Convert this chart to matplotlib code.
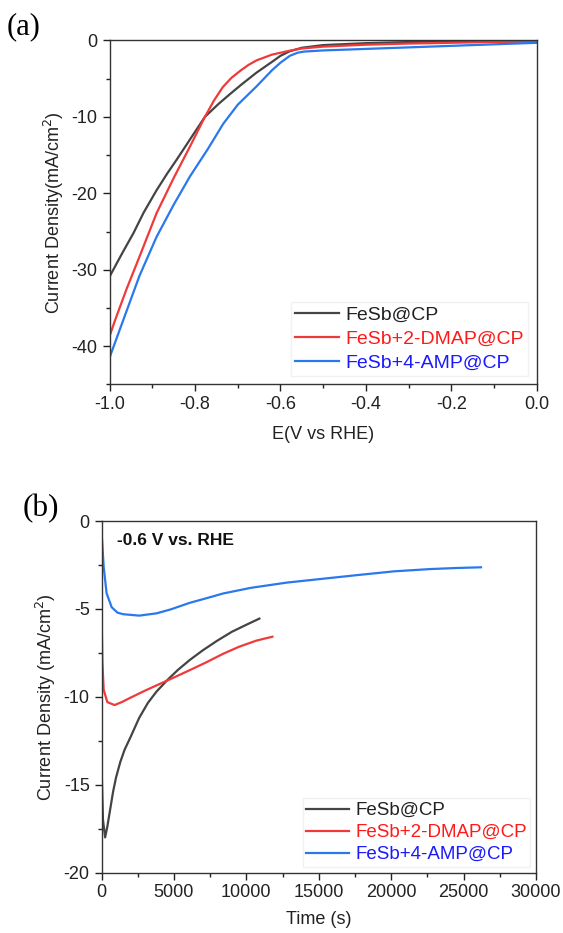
import numpy as np
import matplotlib
matplotlib.use("Agg")
from matplotlib import pyplot as plt
from matplotlib.ticker import MultipleLocator

plt.rcParams['font.family'] = ['Liberation Sans', 'DejaVu Sans']
plt.rcParams['axes.unicode_minus'] = False

labels = ["FeSb@CP", "FeSb+2-DMAP@CP", "FeSb+4-AMP@CP"]
line_colors = ["#444444", "#f03a3a", "#2a78ee"]
text_colors = ["#222222", "#ff1a1a", "#1a1aff"]

# (a) LSV curves
e_black = [-1.00, -0.97, -0.944, -0.92, -0.89, -0.865, -0.843, -0.81, -0.777, -0.745,
           -0.718, -0.69, -0.656, -0.62, -0.60, -0.578, -0.55, -0.50, -0.40, -0.30,
           -0.20, -0.10, 0.0]
j_black = [-30.9, -27.8, -25.2, -22.5, -19.6, -17.4, -15.6, -12.8, -10.0, -8.3,
           -7.0, -5.7, -4.2, -2.8, -2.0, -1.4, -0.95, -0.6, -0.35, -0.2,
           -0.1, -0.05, -0.05]
e_red = [-1.00, -0.987, -0.96, -0.93, -0.89, -0.85, -0.812, -0.777, -0.755, -0.735,
         -0.715, -0.695, -0.675, -0.656, -0.62, -0.578, -0.55, -0.50, -0.40, -0.30,
         -0.20, -0.10, 0.0]
j_red = [-38.7, -36.6, -32.5, -28.3, -22.6, -18.0, -13.9, -10.0, -7.8, -6.1,
         -4.9, -4.0, -3.2, -2.6, -1.85, -1.33, -1.05, -0.8, -0.55, -0.4,
         -0.3, -0.2, -0.15]
e_blue = [-1.00, -0.968, -0.93, -0.89, -0.85, -0.812, -0.77, -0.734, -0.70, -0.656,
          -0.62, -0.60, -0.578, -0.56, -0.545, -0.50, -0.40, -0.30, -0.20, -0.10, 0.0]
j_blue = [-41.5, -36.6, -30.8, -25.7, -21.5, -17.8, -14.2, -10.9, -8.4, -6.0,
          -3.9, -2.9, -2.0, -1.6, -1.45, -1.3, -1.1, -0.9, -0.7, -0.5, -0.3]

# (b) chronoamperometry
t_black = [0, 100, 250, 400, 600, 800, 1000, 1300, 1600, 2000, 2600, 3200, 3800,
           4600, 5300, 6100, 7000, 8000, 9000, 10000, 10900]
i_black = [-13.8, -17.0, -18.0, -17.4, -16.4, -15.4, -14.6, -13.7, -13.0, -12.3,
           -11.2, -10.35, -9.7, -9.0, -8.45, -7.9, -7.35, -6.8, -6.3, -5.9, -5.55]
t_red = [0, 60, 150, 400, 900, 1400, 2000, 3000, 3800, 5000, 6100, 7200, 8400,
         9500, 10700, 11800]
i_red = [-5.0, -8.0, -9.6, -10.3, -10.47, -10.3, -10.05, -9.65, -9.35, -8.9,
         -8.48, -8.05, -7.55, -7.15, -6.8, -6.58]
t_blue = [0, 30, 150, 350, 700, 1100, 1500, 2600, 3800, 4800, 6100, 7200, 8400,
          10300, 12800, 15300, 17700, 20200, 22700, 24500, 26200]
i_blue = [-13.8, -1.0, -2.6, -4.1, -4.9, -5.21, -5.3, -5.38, -5.25, -5.02,
          -4.65, -4.4, -4.12, -3.8, -3.5, -3.28, -3.07, -2.86, -2.73, -2.67, -2.63]

fig = plt.figure(figsize=(5.63, 9.33), dpi=100)
ax1 = fig.add_axes([0.1945, 0.5879, 0.7593, 0.3687])
ax2 = fig.add_axes([0.1803, 0.0648, 0.7718, 0.3767])


def style(ax):
    for s in ax.spines.values():
        s.set_color("#333333")
        s.set_linewidth(1.0)
    ax.tick_params(which="both", direction="out", top=False, right=False,
                   labelsize=13, colors="#222222")
    ax.tick_params(which="major", length=5, width=1)
    ax.tick_params(which="minor", length=3, width=1)


for x, y, c in zip([e_black, e_red, e_blue], [j_black, j_red, j_blue], line_colors):
    ax1.plot(x, y, color=c, lw=1.6)
ax1.set_xlim(-1.0, 0.0)
ax1.set_ylim(-45, 0)
ax1.xaxis.set_major_locator(MultipleLocator(0.2))
ax1.xaxis.set_minor_locator(MultipleLocator(0.1))
ax1.yaxis.set_major_locator(MultipleLocator(10))
ax1.yaxis.set_minor_locator(MultipleLocator(5))
ax1.xaxis.set_major_formatter(plt.FuncFormatter(lambda v, p: "%.1f" % v))
ax1.set_xlabel("E(V vs RHE)", fontsize=13, color="#222222", labelpad=9)
ax1.set_ylabel("Current Density(mA/cm$^2$)", fontsize=13, color="#222222", labelpad=4)
style(ax1)
leg1 = ax1.legend(labels, loc="lower right", fontsize=14, handlelength=2.27,
                  frameon=True, fancybox=False, edgecolor="#eeeeee",
                  borderaxespad=0.45, borderpad=0.2, handletextpad=0.33,
                  labelspacing=0.33)
for t, c in zip(leg1.get_texts(), text_colors):
    t.set_color(c)

for x, y, c in zip([t_black, t_red, t_blue], [i_black, i_red, i_blue], line_colors):
    ax2.plot(x, y, color=c, lw=1.6)
ax2.set_xlim(0, 30000)
ax2.set_ylim(-20, 0)
ax2.xaxis.set_major_locator(MultipleLocator(5000))
ax2.xaxis.set_minor_locator(MultipleLocator(2500))
ax2.yaxis.set_major_locator(MultipleLocator(5))
ax2.yaxis.set_minor_locator(MultipleLocator(2.5))
ax2.set_xlabel("Time (s)", fontsize=13, color="#222222", labelpad=7)
ax2.set_ylabel("Current Density (mA/cm$^2$)", fontsize=13, color="#222222", labelpad=4)
style(ax2)
leg2 = ax2.legend(labels, loc="lower right", fontsize=13.5, handlelength=2.3,
                  frameon=True, fancybox=False, edgecolor="#eeeeee",
                  borderaxespad=0.3, borderpad=0.2, handletextpad=0.3,
                  labelspacing=0.26)
for t, c in zip(leg2.get_texts(), text_colors):
    t.set_color(c)
ax2.text(0.035, 0.945, "-0.6 V vs. RHE", transform=ax2.transAxes, fontsize=12.5,
         fontweight="bold", va="center", ha="left", color="#111111")

fig.text(0.012, 0.9716, "(a)", fontsize=22, family="Liberation Serif", va="center", ha="left")
fig.text(0.041, 0.455, "(b)", fontsize=22.5, family="Liberation Serif", va="center", ha="left")

fig.savefig("out.png", dpi=100)
